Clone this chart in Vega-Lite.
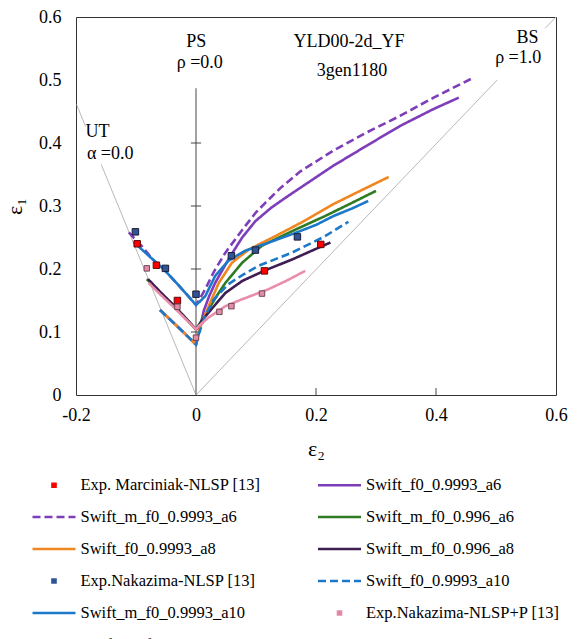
{
 "$schema": "https://vega.github.io/schema/vega-lite/v6.json",
 "width": 480, "height": 378,
 "autosize": {"type": "none"},
 "padding": {"left": 76, "top": 17, "right": 27, "bottom": 244},
 "background": "white",
 "config": {"view": {"stroke": "#333", "strokeWidth": 1}, "font": "Liberation Serif"},
 "datasets": {
  "ref": [
   {"x": -0.199, "y": 0.461, "x2": -0.184, "y2": 0.426},
   {"x": -0.158, "y": 0.366, "x2": 0, "y2": 0},
   {"x": 0, "y": 0, "x2": 0.502, "y2": 0.5},
   {"x": 0.582, "y": 0.582, "x2": 0.6, "y2": 0.6}
  ],
  "zaxis": [{"x": 0, "y": 0, "x2": 0, "y2": 0.487}],
  "ticks": [
   {"x": -0.0085, "x2": 0.0085, "y": 0.1, "y2": 0.1},
   {"x": -0.0085, "x2": 0.0085, "y": 0.2, "y2": 0.2},
   {"x": -0.0085, "x2": 0.0085, "y": 0.3, "y2": 0.3},
   {"x": -0.0085, "x2": 0.0085, "y": 0.4, "y2": 0.4},
   {"x": 0.2, "x2": 0.2, "y": 0, "y2": 0.011},
   {"x": 0.4, "x2": 0.4, "y": 0, "y2": 0.011}
  ],
  "notes": [
   {"text": "PS", "x": 0.0006, "y": 0.561},
   {"text": "ρ =0.0", "x": 0.0062, "y": 0.527},
   {"text": "YLD00-2d_YF", "x": 0.255, "y": 0.561},
   {"text": "3gen1180", "x": 0.26, "y": 0.514},
   {"text": "BS", "x": 0.5525, "y": 0.566},
   {"text": "ρ =1.0", "x": 0.537, "y": 0.535},
   {"text": "UT", "x": -0.164, "y": 0.418},
   {"text": "α =0.0", "x": -0.143, "y": 0.383}
  ],
  "exp1": [
   {"series": "Exp. Marciniak-NLSP [13]", "x": -0.098, "y": 0.240},
   {"series": "Exp. Marciniak-NLSP [13]", "x": -0.066, "y": 0.206},
   {"series": "Exp. Marciniak-NLSP [13]", "x": -0.031, "y": 0.150},
   {"series": "Exp. Marciniak-NLSP [13]", "x": 0.114, "y": 0.197},
   {"series": "Exp. Marciniak-NLSP [13]", "x": 0.208, "y": 0.239},
   {"series": "Exp.Nakazima-NLSP [13]", "x": -0.101, "y": 0.259},
   {"series": "Exp.Nakazima-NLSP [13]", "x": -0.051, "y": 0.201},
   {"series": "Exp.Nakazima-NLSP [13]", "x": 0.0, "y": 0.160},
   {"series": "Exp.Nakazima-NLSP [13]", "x": 0.059, "y": 0.221},
   {"series": "Exp.Nakazima-NLSP [13]", "x": 0.099, "y": 0.230},
   {"series": "Exp.Nakazima-NLSP [13]", "x": 0.169, "y": 0.251}
  ],
  "exp2": [
   {"series": "Exp.Nakazima-NLSP+P [13]", "x": -0.082, "y": 0.201},
   {"series": "Exp.Nakazima-NLSP+P [13]", "x": -0.031, "y": 0.140},
   {"series": "Exp.Nakazima-NLSP+P [13]", "x": 0.0, "y": 0.091},
   {"series": "Exp.Nakazima-NLSP+P [13]", "x": 0.039, "y": 0.132},
   {"series": "Exp.Nakazima-NLSP+P [13]", "x": 0.059, "y": 0.141},
   {"series": "Exp.Nakazima-NLSP+P [13]", "x": 0.11, "y": 0.161}
  ],
  "curves": [
   {"series": "Swift_f0_0.9993_a6", "ord": 1, "x": -0.06, "y": 0.135},
   {"series": "Swift_f0_0.9993_a6", "ord": 2, "x": -0.03, "y": 0.108},
   {"series": "Swift_f0_0.9993_a6", "ord": 3, "x": 0, "y": 0.08},
   {"series": "Swift_f0_0.9993_a6", "ord": 4, "x": 0.005, "y": 0.1},
   {"series": "Swift_f0_0.9993_a6", "ord": 5, "x": 0.013, "y": 0.134},
   {"series": "Swift_f0_0.9993_a6", "ord": 6, "x": 0.022, "y": 0.157},
   {"series": "Swift_f0_0.9993_a6", "ord": 7, "x": 0.032, "y": 0.178},
   {"series": "Swift_f0_0.9993_a6", "ord": 8, "x": 0.045, "y": 0.2},
   {"series": "Swift_f0_0.9993_a6", "ord": 9, "x": 0.057, "y": 0.22},
   {"series": "Swift_f0_0.9993_a6", "ord": 10, "x": 0.077, "y": 0.25},
   {"series": "Swift_f0_0.9993_a6", "ord": 11, "x": 0.099, "y": 0.276},
   {"series": "Swift_f0_0.9993_a6", "ord": 12, "x": 0.125, "y": 0.297},
   {"series": "Swift_f0_0.9993_a6", "ord": 13, "x": 0.149, "y": 0.313},
   {"series": "Swift_f0_0.9993_a6", "ord": 14, "x": 0.174, "y": 0.329},
   {"series": "Swift_f0_0.9993_a6", "ord": 15, "x": 0.229, "y": 0.364},
   {"series": "Swift_f0_0.9993_a6", "ord": 16, "x": 0.285, "y": 0.396},
   {"series": "Swift_f0_0.9993_a6", "ord": 17, "x": 0.34, "y": 0.427},
   {"series": "Swift_f0_0.9993_a6", "ord": 18, "x": 0.396, "y": 0.454},
   {"series": "Swift_f0_0.9993_a6", "ord": 19, "x": 0.438, "y": 0.472},

   {"series": "Swift_m_f0_0.9993_a6", "ord": 1, "x": -0.112, "y": 0.258},
   {"series": "Swift_m_f0_0.9993_a6", "ord": 2, "x": -0.09, "y": 0.236},
   {"series": "Swift_m_f0_0.9993_a6", "ord": 3, "x": -0.073, "y": 0.216},
   {"series": "Swift_m_f0_0.9993_a6", "ord": 4, "x": -0.054, "y": 0.2},
   {"series": "Swift_m_f0_0.9993_a6", "ord": 5, "x": -0.027, "y": 0.172},
   {"series": "Swift_m_f0_0.9993_a6", "ord": 6, "x": 0, "y": 0.143},
   {"series": "Swift_m_f0_0.9993_a6", "ord": 7, "x": 0.006, "y": 0.152},
   {"series": "Swift_m_f0_0.9993_a6", "ord": 8, "x": 0.0155, "y": 0.168},
   {"series": "Swift_m_f0_0.9993_a6", "ord": 9, "x": 0.03, "y": 0.196},
   {"series": "Swift_m_f0_0.9993_a6", "ord": 10, "x": 0.049, "y": 0.226},
   {"series": "Swift_m_f0_0.9993_a6", "ord": 11, "x": 0.077, "y": 0.262},
   {"series": "Swift_m_f0_0.9993_a6", "ord": 12, "x": 0.1, "y": 0.29},
   {"series": "Swift_m_f0_0.9993_a6", "ord": 13, "x": 0.1155, "y": 0.305},
   {"series": "Swift_m_f0_0.9993_a6", "ord": 14, "x": 0.14, "y": 0.328},
   {"series": "Swift_m_f0_0.9993_a6", "ord": 15, "x": 0.174, "y": 0.355},
   {"series": "Swift_m_f0_0.9993_a6", "ord": 16, "x": 0.229, "y": 0.388},
   {"series": "Swift_m_f0_0.9993_a6", "ord": 17, "x": 0.285, "y": 0.417},
   {"series": "Swift_m_f0_0.9993_a6", "ord": 18, "x": 0.34, "y": 0.443},
   {"series": "Swift_m_f0_0.9993_a6", "ord": 19, "x": 0.396, "y": 0.472},
   {"series": "Swift_m_f0_0.9993_a6", "ord": 20, "x": 0.463, "y": 0.504},

   {"series": "Swift_m_f0_0.996_a6", "ord": 1, "x": -0.082, "y": 0.184},
   {"series": "Swift_m_f0_0.996_a6", "ord": 2, "x": -0.06, "y": 0.163},
   {"series": "Swift_m_f0_0.996_a6", "ord": 3, "x": -0.04, "y": 0.145},
   {"series": "Swift_m_f0_0.996_a6", "ord": 4, "x": -0.02, "y": 0.125},
   {"series": "Swift_m_f0_0.996_a6", "ord": 5, "x": 0, "y": 0.104},
   {"series": "Swift_m_f0_0.996_a6", "ord": 6, "x": 0.006, "y": 0.113},
   {"series": "Swift_m_f0_0.996_a6", "ord": 7, "x": 0.021, "y": 0.136},
   {"series": "Swift_m_f0_0.996_a6", "ord": 8, "x": 0.035, "y": 0.158},
   {"series": "Swift_m_f0_0.996_a6", "ord": 9, "x": 0.049, "y": 0.178},
   {"series": "Swift_m_f0_0.996_a6", "ord": 10, "x": 0.077, "y": 0.21},
   {"series": "Swift_m_f0_0.996_a6", "ord": 11, "x": 0.11, "y": 0.237},
   {"series": "Swift_m_f0_0.996_a6", "ord": 12, "x": 0.16, "y": 0.26},
   {"series": "Swift_m_f0_0.996_a6", "ord": 13, "x": 0.215, "y": 0.284},
   {"series": "Swift_m_f0_0.996_a6", "ord": 14, "x": 0.26, "y": 0.305},
   {"series": "Swift_m_f0_0.996_a6", "ord": 15, "x": 0.3, "y": 0.324},

   {"series": "Swift_f0_0.9993_a8", "ord": 1, "x": -0.06, "y": 0.135},
   {"series": "Swift_f0_0.9993_a8", "ord": 2, "x": -0.03, "y": 0.108},
   {"series": "Swift_f0_0.9993_a8", "ord": 3, "x": 0, "y": 0.08},
   {"series": "Swift_f0_0.9993_a8", "ord": 4, "x": 0.004, "y": 0.1},
   {"series": "Swift_f0_0.9993_a8", "ord": 5, "x": 0.012, "y": 0.12},
   {"series": "Swift_f0_0.9993_a8", "ord": 6, "x": 0.021, "y": 0.141},
   {"series": "Swift_f0_0.9993_a8", "ord": 7, "x": 0.038, "y": 0.178},
   {"series": "Swift_f0_0.9993_a8", "ord": 8, "x": 0.06, "y": 0.21},
   {"series": "Swift_f0_0.9993_a8", "ord": 9, "x": 0.088, "y": 0.231},
   {"series": "Swift_f0_0.9993_a8", "ord": 10, "x": 0.132, "y": 0.252},
   {"series": "Swift_f0_0.9993_a8", "ord": 11, "x": 0.174, "y": 0.273},
   {"series": "Swift_f0_0.9993_a8", "ord": 12, "x": 0.229, "y": 0.303},
   {"series": "Swift_f0_0.9993_a8", "ord": 13, "x": 0.28, "y": 0.327},
   {"series": "Swift_f0_0.9993_a8", "ord": 14, "x": 0.321, "y": 0.346},

   {"series": "Swift_m_f0_0.996_a8", "ord": 1, "x": -0.08, "y": 0.184},
   {"series": "Swift_m_f0_0.996_a8", "ord": 2, "x": -0.06, "y": 0.164},
   {"series": "Swift_m_f0_0.996_a8", "ord": 3, "x": -0.04, "y": 0.145},
   {"series": "Swift_m_f0_0.996_a8", "ord": 4, "x": -0.02, "y": 0.125},
   {"series": "Swift_m_f0_0.996_a8", "ord": 5, "x": 0, "y": 0.104},
   {"series": "Swift_m_f0_0.996_a8", "ord": 6, "x": 0.01, "y": 0.118},
   {"series": "Swift_m_f0_0.996_a8", "ord": 7, "x": 0.021, "y": 0.131},
   {"series": "Swift_m_f0_0.996_a8", "ord": 8, "x": 0.049, "y": 0.162},
   {"series": "Swift_m_f0_0.996_a8", "ord": 9, "x": 0.077, "y": 0.181},
   {"series": "Swift_m_f0_0.996_a8", "ord": 10, "x": 0.1155, "y": 0.198},
   {"series": "Swift_m_f0_0.996_a8", "ord": 11, "x": 0.16, "y": 0.215},
   {"series": "Swift_m_f0_0.996_a8", "ord": 12, "x": 0.2, "y": 0.232},
   {"series": "Swift_m_f0_0.996_a8", "ord": 13, "x": 0.224, "y": 0.242},

   {"series": "Swift_f0_0.9993_a10", "ord": 1, "x": -0.06, "y": 0.135},
   {"series": "Swift_f0_0.9993_a10", "ord": 2, "x": -0.03, "y": 0.108},
   {"series": "Swift_f0_0.9993_a10", "ord": 3, "x": 0, "y": 0.08},
   {"series": "Swift_f0_0.9993_a10", "ord": 4, "x": 0.005, "y": 0.098},
   {"series": "Swift_f0_0.9993_a10", "ord": 5, "x": 0.015, "y": 0.125},
   {"series": "Swift_f0_0.9993_a10", "ord": 6, "x": 0.03, "y": 0.152},
   {"series": "Swift_f0_0.9993_a10", "ord": 7, "x": 0.054, "y": 0.176},
   {"series": "Swift_f0_0.9993_a10", "ord": 8, "x": 0.08, "y": 0.192},
   {"series": "Swift_f0_0.9993_a10", "ord": 9, "x": 0.104, "y": 0.205},
   {"series": "Swift_f0_0.9993_a10", "ord": 10, "x": 0.16, "y": 0.226},
   {"series": "Swift_f0_0.9993_a10", "ord": 11, "x": 0.215, "y": 0.252},
   {"series": "Swift_f0_0.9993_a10", "ord": 12, "x": 0.254, "y": 0.275},

   {"series": "Swift_m_f0_0.9993_a10", "ord": 1, "x": -0.104, "y": 0.243},
   {"series": "Swift_m_f0_0.9993_a10", "ord": 2, "x": -0.08, "y": 0.222},
   {"series": "Swift_m_f0_0.9993_a10", "ord": 3, "x": -0.054, "y": 0.2},
   {"series": "Swift_m_f0_0.9993_a10", "ord": 4, "x": -0.027, "y": 0.172},
   {"series": "Swift_m_f0_0.9993_a10", "ord": 5, "x": 0, "y": 0.143},
   {"series": "Swift_m_f0_0.9993_a10", "ord": 6, "x": 0.006, "y": 0.148},
   {"series": "Swift_m_f0_0.9993_a10", "ord": 7, "x": 0.0155, "y": 0.157},
   {"series": "Swift_m_f0_0.9993_a10", "ord": 8, "x": 0.032, "y": 0.189},
   {"series": "Swift_m_f0_0.9993_a10", "ord": 9, "x": 0.054, "y": 0.213},
   {"series": "Swift_m_f0_0.9993_a10", "ord": 10, "x": 0.082, "y": 0.229},
   {"series": "Swift_m_f0_0.9993_a10", "ord": 11, "x": 0.1155, "y": 0.24},
   {"series": "Swift_m_f0_0.9993_a10", "ord": 12, "x": 0.165, "y": 0.257},
   {"series": "Swift_m_f0_0.9993_a10", "ord": 13, "x": 0.2, "y": 0.27},
   {"series": "Swift_m_f0_0.9993_a10", "ord": 14, "x": 0.229, "y": 0.284},
   {"series": "Swift_m_f0_0.9993_a10", "ord": 15, "x": 0.26, "y": 0.296},
   {"series": "Swift_m_f0_0.9993_a10", "ord": 16, "x": 0.287, "y": 0.308},

   {"series": "Swift_m_f0_0.996_a10", "ord": 1, "x": -0.079, "y": 0.178},
   {"series": "Swift_m_f0_0.996_a10", "ord": 2, "x": -0.06, "y": 0.16},
   {"series": "Swift_m_f0_0.996_a10", "ord": 3, "x": -0.04, "y": 0.142},
   {"series": "Swift_m_f0_0.996_a10", "ord": 4, "x": -0.02, "y": 0.123},
   {"series": "Swift_m_f0_0.996_a10", "ord": 5, "x": 0, "y": 0.104},
   {"series": "Swift_m_f0_0.996_a10", "ord": 6, "x": 0.004, "y": 0.109},
   {"series": "Swift_m_f0_0.996_a10", "ord": 7, "x": 0.021, "y": 0.123},
   {"series": "Swift_m_f0_0.996_a10", "ord": 8, "x": 0.049, "y": 0.141},
   {"series": "Swift_m_f0_0.996_a10", "ord": 9, "x": 0.077, "y": 0.152},
   {"series": "Swift_m_f0_0.996_a10", "ord": 10, "x": 0.121, "y": 0.168},
   {"series": "Swift_m_f0_0.996_a10", "ord": 11, "x": 0.15, "y": 0.181},
   {"series": "Swift_m_f0_0.996_a10", "ord": 12, "x": 0.182, "y": 0.197}
  ]
 },
 "encoding": {
  "x": {"field": "x", "type": "quantitative",
   "scale": {"domain": [-0.2, 0.6], "nice": false, "zero": false},
   "axis": {"values": [-0.2, 0, 0.2, 0.4, 0.6], "labelExpr": "datum.value === 0 ? '0' : (datum.value < 0 ? '-' : '') + format(abs(datum.value), '.1f')",
    "domain": false, "ticks": false, "tickSize": 0, "grid": false, "labelFlush": false, "labelOverlap": false,
    "labelFont": "Liberation Serif", "labelFontSize": 18, "labelColor": "#000", "labelPadding": 11,
    "title": "ε₂", "titleFont": "Liberation Serif", "titleFontSize": 22, "titleFontWeight": "normal", "titleColor": "#000", "titlePadding": 14}},
  "y": {"field": "y", "type": "quantitative",
   "scale": {"domain": [0, 0.6], "nice": false, "zero": false},
   "axis": {"values": [0, 0.1, 0.2, 0.3, 0.4, 0.5, 0.6], "labelExpr": "datum.value === 0 ? '0' : format(datum.value, '.1f')",
    "domain": false, "ticks": false, "tickSize": 0, "grid": false, "labelFlush": false, "labelOverlap": false,
    "labelFont": "Liberation Serif", "labelFontSize": 18, "labelColor": "#000", "labelPadding": 15,
    "title": "ε₁", "titleFont": "Liberation Serif", "titleFontSize": 22, "titleFontWeight": "normal", "titleColor": "#000", "titlePadding": 12}}
 },
 "layer": [
  {"data": {"name": "ref"}, "mark": {"type": "rule", "color": "#b0b0b0", "strokeWidth": 0.9},
   "encoding": {"x2": {"field": "x2"}, "y2": {"field": "y2"}}},
  {"data": {"name": "zaxis"}, "mark": {"type": "rule", "color": "#8c8c8c", "strokeWidth": 1.6},
   "encoding": {"y2": {"field": "y2"}}},
  {"data": {"name": "ticks"}, "mark": {"type": "rule", "color": "#444", "strokeWidth": 1},
   "encoding": {"x2": {"field": "x2"}, "y2": {"field": "y2"}}},
  {"data": {"name": "curves"}, "mark": {"type": "line", "strokeWidth": 2.6, "strokeCap": "butt"},
   "encoding": {
    "color": {"field": "series", "type": "nominal",
     "scale": {"domain": ["Exp. Marciniak-NLSP [13]", "Swift_m_f0_0.9993_a6", "Swift_f0_0.9993_a8", "Exp.Nakazima-NLSP [13]", "Swift_m_f0_0.9993_a10", "Swift_m_f0_0.996_a10", "Swift_f0_0.9993_a6", "Swift_m_f0_0.996_a6", "Swift_m_f0_0.996_a8", "Swift_f0_0.9993_a10", "Exp.Nakazima-NLSP+P [13]"],
      "range": ["#FF0000", "#7E3DB9", "#F0861F", "#2F5597", "#1C79C9", "#E98EAA", "#7E3DB9", "#2E7B22", "#3E1D52", "#1C79C9", "#E48BA7"]},
     "legend": {"orient": "none", "legendX": -45, "legendY": 445, "columns": 2, "title": null,
      "symbolSize": 1849, "symbolStrokeWidth": 2.6, "labelFont": "Liberation Serif", "labelFontSize": 16.5, "labelColor": "#000",
      "labelOffset": 3.5, "rowPadding": -3.2, "columnPadding": 51.5, "labelLimit": 400}},
    "strokeDash": {"field": "series", "type": "nominal",
     "scale": {"domain": ["Exp. Marciniak-NLSP [13]", "Swift_m_f0_0.9993_a6", "Swift_f0_0.9993_a8", "Exp.Nakazima-NLSP [13]", "Swift_m_f0_0.9993_a10", "Swift_m_f0_0.996_a10", "Swift_f0_0.9993_a6", "Swift_m_f0_0.996_a6", "Swift_m_f0_0.996_a8", "Swift_f0_0.9993_a10", "Exp.Nakazima-NLSP+P [13]"],
      "range": [[1, 0], [8, 4], [1, 0], [1, 0], [1, 0], [1, 0], [1, 0], [1, 0], [1, 0], [8, 4], [1, 0]]},
     "legend": {"orient": "none", "legendX": -45, "legendY": 445, "columns": 2, "title": null,
      "symbolSize": 1849, "symbolStrokeWidth": 2.6, "labelFont": "Liberation Serif", "labelFontSize": 16.5, "labelColor": "#000",
      "labelOffset": 3.5, "rowPadding": -3.2, "columnPadding": 51.5, "labelLimit": 400}},
    "order": {"field": "ord", "type": "quantitative"}
   }},
  {"data": {"name": "exp1"}, "mark": {"type": "point", "filled": true, "opacity": 1, "size": 8500, "strokeWidth": 1},
   "encoding": {
    "shape": {"field": "series", "type": "nominal",
     "scale": {"domain": ["Exp. Marciniak-NLSP [13]", "Swift_m_f0_0.9993_a6", "Swift_f0_0.9993_a8", "Exp.Nakazima-NLSP [13]", "Swift_m_f0_0.9993_a10", "Swift_m_f0_0.996_a10", "Swift_f0_0.9993_a6", "Swift_m_f0_0.996_a6", "Swift_m_f0_0.996_a8", "Swift_f0_0.9993_a10", "Exp.Nakazima-NLSP+P [13]"],
      "range": ["M-0.07,-0.07L0.07,-0.07L0.07,0.07L-0.07,0.07Z", "stroke", "stroke", "M-0.07,-0.07L0.07,-0.07L0.07,0.07L-0.07,0.07Z", "stroke", "stroke", "stroke", "stroke", "stroke", "stroke", "M-0.07,-0.07L0.07,-0.07L0.07,0.07L-0.07,0.07Z"]},
     "legend": {"orient": "none", "legendX": -45, "legendY": 445, "columns": 2, "title": null,
      "symbolSize": 1849, "symbolStrokeWidth": 2.6, "labelFont": "Liberation Serif", "labelFontSize": 16.5, "labelColor": "#000",
      "labelOffset": 3.5, "rowPadding": -3.2, "columnPadding": 51.5, "labelLimit": 400}},
    "fill": {"field": "series", "type": "nominal",
     "scale": {"domain": ["Exp. Marciniak-NLSP [13]", "Exp.Nakazima-NLSP [13]"], "range": ["#FF0000", "#2F5597"]},
     "legend": null},
    "stroke": {"field": "series", "type": "nominal",
     "scale": {"domain": ["Exp. Marciniak-NLSP [13]", "Exp.Nakazima-NLSP [13]"], "range": ["#5a0a0a", "#1b1b33"]},
     "legend": null}
   }},
  {"data": {"name": "exp2"}, "mark": {"type": "point", "shape": "square", "filled": true, "fill": "#E48BA7", "stroke": "#6e4a57", "opacity": 1, "size": 30, "strokeWidth": 1}},
  {"data": {"name": "notes"}, "mark": {"type": "text", "font": "Liberation Serif", "fontSize": 18, "color": "#000", "align": "center", "baseline": "middle"},
   "encoding": {"text": {"field": "text"}}}
 ]
}
